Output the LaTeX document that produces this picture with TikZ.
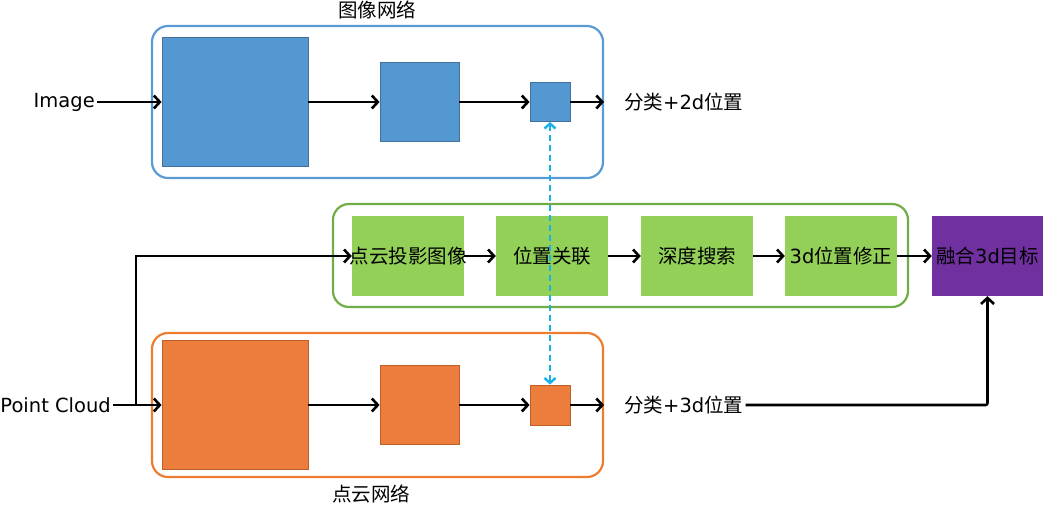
\documentclass[tikz,border=0pt]{standalone}
\usepackage{fontspec}
\setmainfont{DejaVu Sans}
\newfontfamily\cjk{Noto Sans CJK SC}
\usetikzlibrary{arrows.meta}
\definecolor{bfill}{RGB}{83,152,208}
\definecolor{bdraw}{RGB}{65,113,156}
\definecolor{bgrp}{RGB}{91,155,213}
\definecolor{gfill}{RGB}{146,208,88}
\definecolor{ggrp}{RGB}{112,173,71}
\definecolor{ofill}{RGB}{237,125,61}
\definecolor{odraw}{RGB}{190,95,40}
\definecolor{ogrp}{RGB}{237,125,49}
\definecolor{pfill}{RGB}{112,48,160}
\definecolor{dcyan}{RGB}{26,176,232}
\tikzset{
  txt/.style={font=\fontsize{19.5}{22}\selectfont, inner sep=2pt},
  grp/.style={draw, rounded corners=16pt, line width=2.2pt, inner sep=0pt},
  bbox/.style={draw=bdraw, fill=bfill, line width=0.8pt, inner sep=0pt},
  obox/.style={draw=odraw, fill=ofill, line width=0.8pt, inner sep=0pt},
  gbox/.style={fill=gfill, inner sep=0pt, minimum width=112pt, minimum height=80pt, font=\fontsize{19.5}{22}\selectfont},
  conn/.style={line width=2.6pt, -{Straight Barb[length=6pt,width=13pt,line width=2.6pt]}},
  dashlink/.style={draw=dcyan, line width=2.4pt, dash pattern=on 6pt off 4pt, {Straight Barb[length=5pt,width=11pt,line width=2.4pt]}-{Straight Barb[length=5pt,width=11pt,line width=2.4pt]}}
}
\begin{document}
\begin{tikzpicture}[x=1pt,y=-1pt]
\useasboundingbox (0,0) rectangle (1046,506);
% groups
\node[grp, draw=bgrp, minimum width=451pt, minimum height=152pt] (bg) at (377.5,102) {};
\node[grp, draw=ogrp, minimum width=451pt, minimum height=144pt] (og) at (377.5,405) {};
\node[grp, draw=ggrp, minimum width=575pt, minimum height=103pt] (gg) at (620.5,255.5) {};
\node[txt] (bt) at (377,10) {\cjk 图像网络};
\node[txt] (ot) at (371,494) {\cjk 点云网络};
% image branch
\node[txt, anchor=east] (img) at (97,102) {Image};
\node[bbox, minimum width=146pt, minimum height=129pt] (b1) at (235,102) {};
\node[bbox, minimum width=79pt, minimum height=79pt] (b2) at (419.5,102) {};
\node[bbox, minimum width=40pt, minimum height=39pt] (b3) at (550,102) {};
\node[txt, anchor=west] (c2) at (622,102) {{\cjk 分类}+2d{\cjk 位置}};
\draw[conn] (img) -- (b1);
\draw[conn] (b1) -- (b2);
\draw[conn] (b2) -- (b3);
\draw[conn] (b3) -- (b3 -| bg.east);
% point cloud branch
\node[txt, anchor=east] (pc) at (113,405) {Point Cloud};
\node[obox, minimum width=146pt, minimum height=129pt] (o1) at (235,405) {};
\node[obox, minimum width=79pt, minimum height=79pt] (o2) at (419.5,405) {};
\node[obox, minimum width=40pt, minimum height=40pt] (o3) at (550,405) {};
\node[txt, anchor=west] (c3) at (622,405) {{\cjk 分类}+3d{\cjk 位置}};
\coordinate (jn) at (136,405);
\draw[conn] (pc.east) -- (o1.west |- pc.east);
\draw[conn] (o1) -- (o2);
\draw[conn] (o2) -- (o3);
\draw[conn] (o3) -- (o3 -| og.east);
% fusion chain
\node[gbox] (g1) at (408,256) {\makebox[100pt][c]{\cjk 点云投影图像}};
\node[gbox] (g2) at (552,256) {\cjk 位置关联};
\node[gbox] (g3) at (697,256) {\cjk 深度搜索};
\node[gbox] (g4) at (841,256) {3d{\cjk 位置修正}};
\node[gbox, fill=pfill, minimum width=111pt] (pu) at (987.5,256) {{\cjk 融合}3d{\cjk 目标}};
\draw[conn] (jn) |- (g1.west);
\draw[conn] (g1) -- (g2);
\draw[conn] (g2) -- (g3);
\draw[conn] (g3) -- (g4);
\draw[conn] (g4) -- (pu);
\draw[conn, rounded corners=2pt] (c3.east) -| (pu.south);
% dashed link
\draw[dashlink] (b3.south) -- (o3.north);
\end{tikzpicture}
\end{document}
